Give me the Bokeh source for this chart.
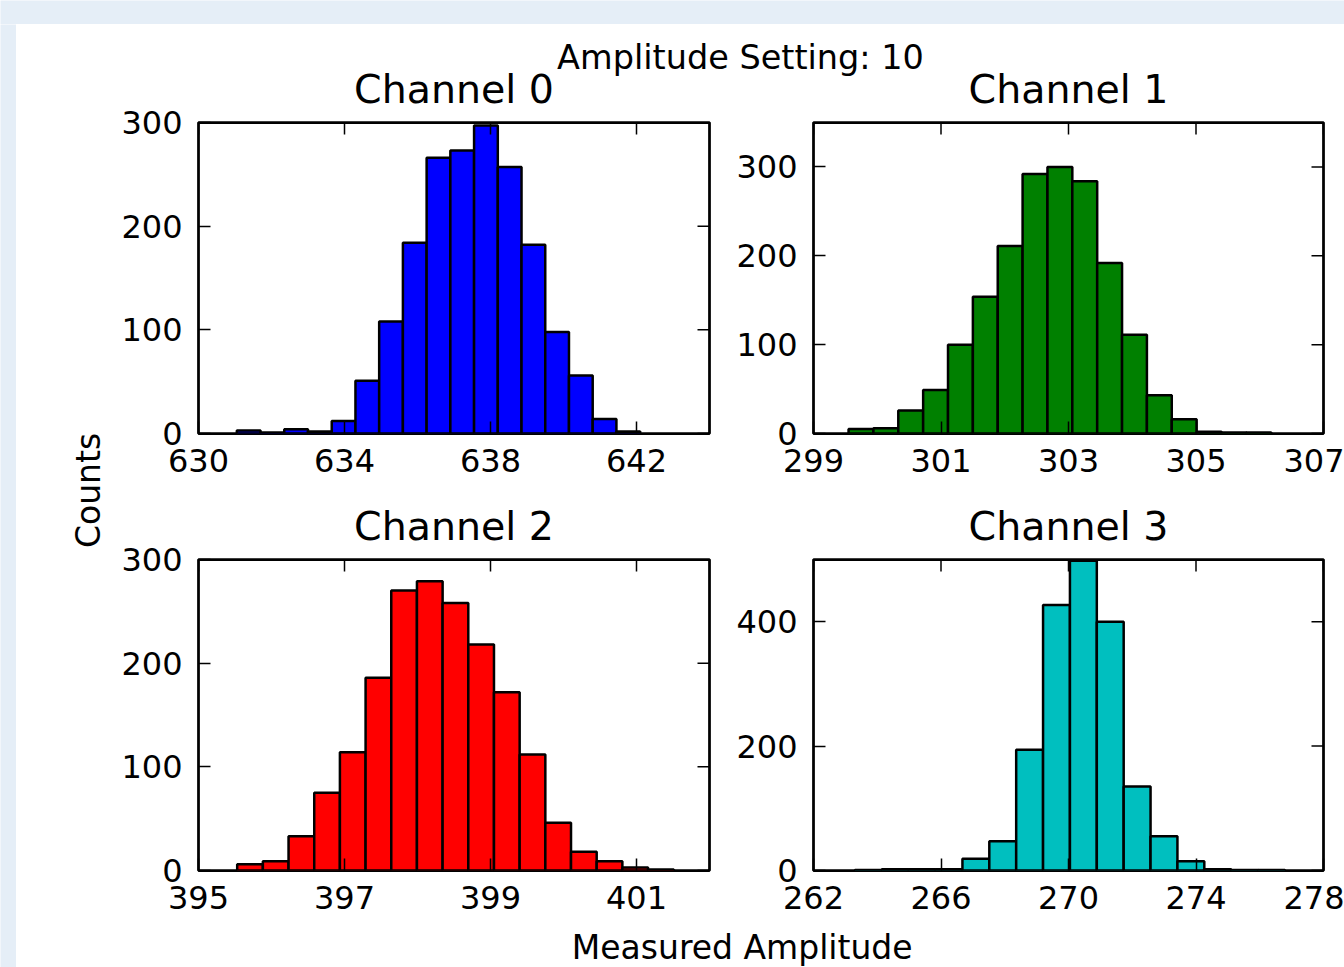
import numpy as np
from bokeh.plotting import figure
from bokeh.layouts import column, row
from bokeh.models import Range1d, FixedTicker
from bokeh.core.properties import value
from bokeh.embed import file_html
from bokeh.resources import INLINE

# ---------------- data ----------------
suptitle = "Amplitude Setting: 10"
titles = ["Channel 0", "Channel 1", "Channel 2", "Channel 3"]
x_label = "Measured Amplitude"
y_label = "Counts"

# histogram bin ranges (first edge, last edge) and counts per channel
ch0_range = (631.05, 642.10)
ch0_counts = [3, 1, 4, 2, 12, 51, 108, 184, 266, 273, 297, 257, 182, 98, 56, 14, 2]
ch1_range = (299.55, 306.18)
ch1_counts = [5, 6, 26, 49, 100, 154, 211, 292, 300, 284, 192, 111, 43, 16, 2, 1, 1]
ch2_range = (395.53, 401.51)
ch2_counts = [6, 9, 33, 75, 114, 186, 270, 279, 258, 218, 172, 112, 46, 18, 9, 3, 1]
ch3_range = (263.30, 276.79)
ch3_counts = [1, 2, 2, 2, 19, 47, 194, 427, 498, 400, 135, 55, 15, 2, 1, 1]

# axis limits and ticks
ch0_xlim, ch0_xticks = (630, 644), [630, 634, 638, 642]
ch1_xlim, ch1_xticks = (299, 307), [299, 301, 303, 305, 307]
ch2_xlim, ch2_xticks = (395, 402), [395, 397, 399, 401]
ch3_xlim, ch3_xticks = (262, 278), [262, 266, 270, 274, 278]
ch0_ylim, ch0_yticks = (0, 300), [0, 100, 200, 300]
ch1_ylim, ch1_yticks = (0, 350), [0, 100, 200, 300]
ch2_ylim, ch2_yticks = (0, 300), [0, 100, 200, 300]
ch3_ylim, ch3_yticks = (0, 500), [0, 200, 400]

colors = ["#0000ff", "#008000", "#ff0000", "#00bfbf"]

# ---------------- styling ----------------
FONT = "DejaVu Sans"
BAND = "#e5eef7"
TICK_FS = "32px"
TICK_LEN = 12


def blank(w, h, bg="white"):
    p = figure(width=w, height=h, x_range=Range1d(0, w), y_range=Range1d(0, h),
               output_backend="svg", toolbar_location=None,
               x_axis_location=None, y_axis_location=None,
               min_border=0, min_border_left=0, min_border_right=0,
               min_border_top=0, min_border_bottom=0)
    p.grid.visible = False
    p.outline_line_color = None
    p.background_fill_color = bg
    p.border_fill_color = bg
    return p


def add_text(p, x, y, txt, size, angle=0.0):
    p.text(x=[x], y=[y], text=[txt], angle=angle,
           text_font=value(FONT), text_font_size=value(size),
           text_color="#000000", text_align="center",
           text_baseline="middle")


def panel(w, h, ml, mr, mt, mb, xlim, xticks, ylim, yticks, lo_hi, counts, color):
    p = figure(width=w, height=h, x_range=Range1d(*xlim), y_range=Range1d(*ylim),
               output_backend="svg", toolbar_location=None,
               min_border_left=ml, min_border_right=mr,
               min_border_top=mt, min_border_bottom=mb)
    p.grid.visible = False
    p.background_fill_color = "white"
    p.border_fill_color = None
    p.outline_line_color = "black"
    p.outline_line_width = 2.75

    edges = np.linspace(lo_hi[0], lo_hi[1], len(counts) + 1)
    p.quad(left=edges[:-1], right=edges[1:], bottom=0, top=counts,
           fill_color=color, line_color="black", line_width=2.5)

    # mirrored inward ticks on the top and right edges
    p.ray(x=xticks, y=[ylim[1]] * len(xticks), length=TICK_LEN, length_units="screen",
          angle=-np.pi / 2, line_color="black", line_width=1.5)
    p.ray(x=[xlim[1]] * len(yticks), y=yticks, length=TICK_LEN, length_units="screen",
          angle=np.pi, line_color="black", line_width=1.5)

    p.xaxis.ticker = FixedTicker(ticks=xticks)
    p.yaxis.ticker = FixedTicker(ticks=yticks)
    for ax in p.axis:
        ax.axis_line_color = None
        ax.major_tick_in = TICK_LEN
        ax.major_tick_out = 0
        ax.major_tick_line_color = "black"
        ax.major_tick_line_width = 1.5
        ax.minor_tick_line_color = None
        ax.major_label_text_font = FONT
        ax.major_label_text_font_size = TICK_FS
        ax.major_label_text_color = "#000000"
    p.xaxis.major_label_standoff = 15
    p.yaxis.major_label_standoff = 16
    return p


# ---------------- layout ----------------
top_band = blank(1344, 24, BAND)
left_band = blank(16, 943, BAND)

counts_strip = blank(94, 943)
add_text(counts_strip, 71.5, 477, y_label, "33px", angle=np.pi / 2)

# header: page y 24..120, overlapped by the first panel row from y 102
header = blank(1234, 96)
header.margin = (0, 0, -18, 0)
add_text(header, 630, 62.9, suptitle, "33.5px")
add_text(header, 343.5, 31.4, titles[0], "39.5px")
add_text(header, 958, 31.4, titles[1], "39.5px")

# middle strip: page y 490..552, overlapped by the second panel row from y 540
mid = blank(1234, 62)
mid.margin = (0, 0, -12, 0)
add_text(mid, 343.5, 26.4, titles[2], "39.5px")
add_text(mid, 958, 26.4, titles[3], "39.5px")

footer = blank(1234, 47)
add_text(footer, 631.7, 19.7, x_label, "33px")

p0 = panel(603, 388, 88, 4, 20, 57, ch0_xlim, ch0_xticks, ch0_ylim, ch0_yticks, ch0_range, ch0_counts, colors[0])
p1 = panel(631, 388, 100, 21, 20, 57, ch1_xlim, ch1_xticks, ch1_ylim, ch1_yticks, ch1_range, ch1_counts, colors[1])
p2 = panel(603, 380, 88, 4, 19, 50, ch2_xlim, ch2_xticks, ch2_ylim, ch2_yticks, ch2_range, ch2_counts, colors[2])
p3 = panel(631, 380, 100, 21, 19, 50, ch3_xlim, ch3_xticks, ch3_ylim, ch3_yticks, ch3_range, ch3_counts, colors[3])

right_col = column(header, row(p0, p1, spacing=0), mid, row(p2, p3, spacing=0), footer, spacing=0)
body = row(left_band, counts_strip, right_col, spacing=0)
layout = column(top_band, body, spacing=0)

open("out.html", "w").write(file_html(layout, INLINE))
